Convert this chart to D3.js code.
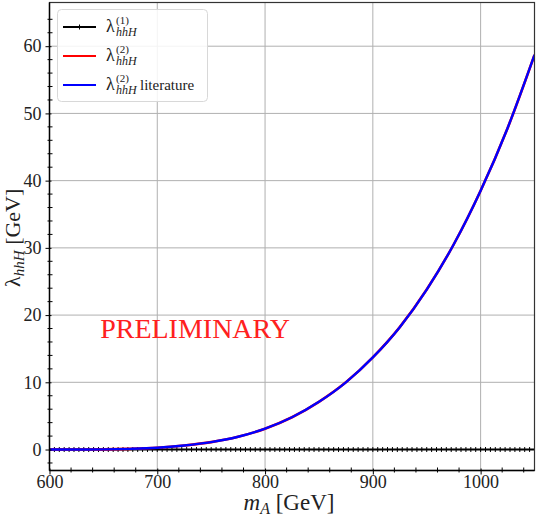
<!DOCTYPE html>
<html>
<head>
<meta charset="utf-8">
<script src="https://cdn.jsdelivr.net/npm/d3@7"></script>
<style>
  html, body { margin: 0; padding: 0; background: #fff; }
  svg { display: block; }
  text { font-family: "Liberation Serif", "DejaVu Serif", serif; fill: #222; }
</style>
</head>
<body>
<svg id="chart" width="536" height="516"></svg>
<script>
// m_A grid for the smooth lambda^(2) curves (GeV)
const mA = [600, 625, 650, 675, 700, 725, 750, 775, 800, 825, 850, 875, 900, 925, 950, 975, 1000, 1025, 1050];
// lambda_hhH^(2) and the literature expression (they coincide)
const lambda2 = [0.0, 0.0, 0.02, 0.1, 0.26, 0.6, 1.1, 1.9, 3.1, 4.8, 7.1, 10.0, 13.7, 18.2, 23.8, 30.5, 38.5, 47.8, 58.7];
const lambda2Lit = [0.0, 0.0, 0.02, 0.1, 0.26, 0.6, 1.1, 1.9, 3.1, 4.8, 7.1, 10.0, 13.7, 18.2, 23.8, 30.5, 38.5, 47.8, 58.7];
// lambda_hhH^(1) sampled on a finer scan (100 points between 600 and 1050 GeV)
const mAScan = d3.range(100).map(i => 600 + 450 * i / 99);
const lambda1 = [
  0,0,0,0,0,0,0,0,0,0, 0,0,0,0,0,0,0,0,0,0,
  0,0,0,0,0,0,0,0,0,0, 0,0,0,0,0,0,0,0,0,0,
  0,0,0,0,0,0,0,0,0,0, 0,0,0,0,0,0,0,0,0,0,
  0,0,0,0,0,0,0,0,0,0, 0,0,0,0,0,0,0,0,0,0,
  0,0,0,0,0,0,0,0,0,0, 0,0,0,0,0,0,0,0,0,0
];
const xTicks = [600, 700, 800, 900, 1000];
const yTicks = [0, 10, 20, 30, 40, 50, 60];

const svg = d3.select("#chart");
const L = 49.5, R = 534.5, T = 2.5, B = 470.5;

const x = d3.scaleLinear().domain([600, 1050]).range([L, R]);
const y = d3.scaleLinear().domain([-3.12, 66.5]).range([B, T]);

// grid
const grid = svg.append("g").attr("stroke", "#b0b0b0").attr("stroke-width", 1);
xTicks.filter(v => v > 600).forEach(v => {
  grid.append("line").attr("x1", x(v)).attr("x2", x(v)).attr("y1", T).attr("y2", B);
});
yTicks.forEach(v => {
  grid.append("line").attr("x1", L).attr("x2", R).attr("y1", y(v)).attr("y2", y(v));
});

svg.append("clipPath").attr("id", "plotclip")
  .append("rect").attr("x", L).attr("y", T).attr("width", R - L).attr("height", B - T);
const plot = svg.append("g").attr("clip-path", "url(#plotclip)");

const smooth = d3.line().x(d => x(d[0])).y(d => y(d[1])).curve(d3.curveMonotoneX);

// lambda^(1): black line with small markers
plot.append("path")
  .datum(mAScan.map((m, i) => [m, lambda1[i]]))
  .attr("fill", "none").attr("stroke", "#000").attr("stroke-width", 2)
  .attr("d", d3.line().x(d => x(d[0])).y(d => y(d[1])));
plot.append("g").selectAll("line")
  .data(mAScan.map((m, i) => [m, lambda1[i]]))
  .join("line")
  .attr("x1", d => x(d[0])).attr("x2", d => x(d[0]))
  .attr("y1", d => y(d[1]) - 2.5).attr("y2", d => y(d[1]) + 2.5)
  .attr("stroke", "#000").attr("stroke-width", 1);

// lambda^(2) (red) under the literature curve (blue)
plot.append("path")
  .datum(mA.map((m, i) => [m, lambda2[i]]))
  .attr("fill", "none").attr("stroke", "#ff0000").attr("stroke-width", 2.6)
  .attr("d", smooth);
plot.append("path")
  .datum(mA.map((m, i) => [m, lambda2Lit[i]]))
  .attr("fill", "none").attr("stroke", "#0000ff").attr("stroke-width", 2.4)
  .attr("d", smooth);

// PRELIMINARY watermark
svg.append("text")
  .attr("x", x(647)).attr("y", y(16.6))
  .attr("font-size", 28).style("fill", "#ff2020")
  .text("PRELIMINARY");

// frame
svg.append("rect").attr("x", L).attr("y", T).attr("width", R - L).attr("height", B - T)
  .attr("fill", "none").attr("stroke", "#333").attr("stroke-width", 1.2);
svg.append("line").attr("x1", L).attr("x2", L).attr("y1", T).attr("y2", B)
  .attr("stroke", "#000").attr("stroke-width", 1.4);
svg.append("line").attr("x1", L).attr("x2", R).attr("y1", B).attr("y2", B)
  .attr("stroke", "#000").attr("stroke-width", 1.4);

// axes
const xAxis = d3.axisBottom(x).tickValues(xTicks).tickSize(5).tickPadding(0).tickFormat(d3.format("d"));
const gx = svg.append("g").attr("transform", `translate(0,${B})`).call(xAxis);
gx.select(".domain").remove();
gx.selectAll(".tick line").attr("y1", -2).attr("y2", 4);
gx.selectAll("text").attr("font-size", 18).style("font-family", "Liberation Serif, serif").style("fill", "#222");

const yAxis = d3.axisLeft(y).tickValues(yTicks).tickSize(5).tickPadding(3).tickFormat(d3.format("d"));
const gy = svg.append("g").attr("transform", `translate(${L},0)`).call(yAxis);
gy.select(".domain").remove();
gy.selectAll(".tick line").attr("x1", 2).attr("x2", -4);
gy.selectAll("text").attr("font-size", 18).style("font-family", "Liberation Serif, serif").style("fill", "#222");

// minor ticks
const xMinor = d3.range(620, 1050, 20).filter(v => v % 100 !== 0);
svg.append("g").selectAll("line").data(xMinor).join("line")
  .attr("x1", d => x(d)).attr("x2", d => x(d)).attr("y1", B - 3).attr("y2", B + 2)
  .attr("stroke", "#000").attr("stroke-width", 1);
const yMinor = d3.range(-2, 66, 2).filter(v => v % 10 !== 0);
svg.append("g").selectAll("line").data(yMinor).join("line")
  .attr("x1", L - 2).attr("x2", L + 3).attr("y1", d => y(d)).attr("y2", d => y(d))
  .attr("stroke", "#000").attr("stroke-width", 1);

// axis labels
const xl = svg.append("text").attr("x", 289).attr("y", 510)
  .attr("text-anchor", "middle").attr("font-size", 23);
xl.append("tspan").attr("font-style", "italic").text("m");
xl.append("tspan").attr("font-style", "italic").attr("font-size", 16).attr("dy", 4).text("A");
xl.append("tspan").attr("dy", -4).text(" [GeV]");

const yl = svg.append("text")
  .attr("transform", `translate(20,${y(31.5)}) rotate(-90)`)
  .attr("text-anchor", "middle").attr("font-size", 22);
yl.append("tspan").text("λ");
yl.append("tspan").attr("font-style", "italic").attr("font-size", 15).attr("dy", 4).text("hhH");
yl.append("tspan").attr("dy", -4).text(" [GeV]");

// legend
const legendItems = [
  { sup: "(1)", extra: "", color: "#000", marker: true },
  { sup: "(2)", extra: "", color: "#ff0000", marker: false },
  { sup: "(2)", extra: " literature", color: "#0000ff", marker: false }
];
const lg = svg.append("g");
lg.append("rect").attr("x", 57.5).attr("y", 9.5).attr("width", 150).attr("height", 92).attr("rx", 4)
  .attr("fill", "#fff").attr("fill-opacity", 0.85).attr("stroke", "#d8d8d8").attr("stroke-width", 1);
legendItems.forEach((it, i) => {
  const cy = 27 + i * 29;
  lg.append("line").attr("x1", 63).attr("x2", 96).attr("y1", cy).attr("y2", cy)
    .attr("stroke", it.color).attr("stroke-width", 2.2);
  if (it.marker) {
    lg.append("line").attr("x1", 79.5).attr("x2", 79.5).attr("y1", cy - 2.5).attr("y2", cy + 2.5)
      .attr("stroke", "#000").attr("stroke-width", 1);
  }
  lg.append("text").attr("x", 106).attr("y", cy + 5).attr("font-size", 18).text("λ");
  const lamW = 10;
  lg.append("text").attr("x", 106 + lamW).attr("y", cy - 3).attr("font-size", 11).text(it.sup);
  lg.append("text").attr("x", 106 + lamW).attr("y", cy + 9).attr("font-size", 12)
    .attr("font-style", "italic").text("hhH");
  if (it.extra) {
    lg.append("text").attr("x", 106 + lamW + 24).attr("y", cy + 5).attr("font-size", 15).text(it.extra);
  }
});
</script>
</body>
</html>
